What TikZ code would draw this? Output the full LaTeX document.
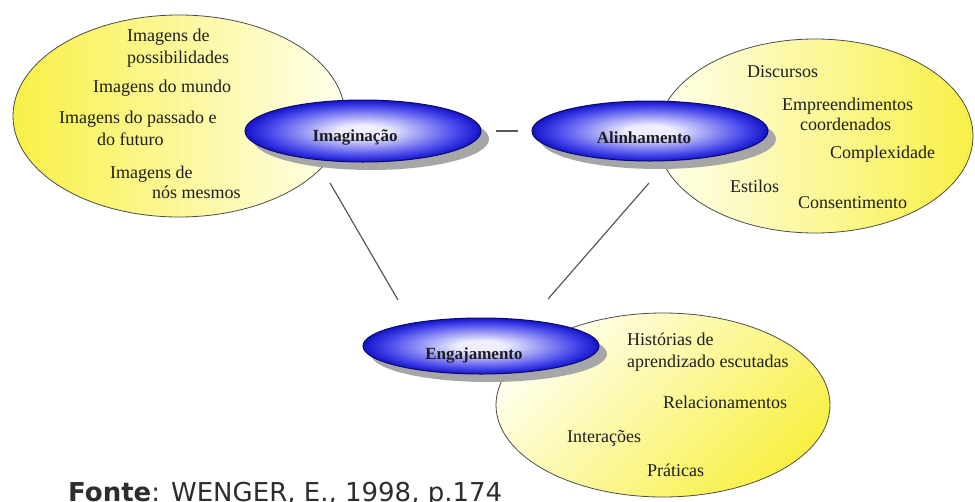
\documentclass[tikz,border=0pt]{standalone}
\usepackage{fontspec}
\setmainfont{Liberation Serif}
\newfontfamily\fontesans{DejaVu Sans}
\usetikzlibrary{shapes.geometric,shadows}
\definecolor{yelA}{RGB}{248,240,70}
\definecolor{creamA}{RGB}{255,255,238}
\definecolor{bwhite}{RGB}{238,238,255}
\definecolor{bmid}{RGB}{70,70,235}
\definecolor{bedge}{RGB}{20,20,200}
\definecolor{bline}{RGB}{10,10,110}
\definecolor{txtc}{RGB}{30,30,30}
\definecolor{fontec}{RGB}{45,45,45}
\pgfdeclareradialshading{blueglow}{\pgfpoint{0bp}{0bp}}{color(0bp)=(bwhite); color(5bp)=(bwhite); color(20bp)=(bmid); color(25bp)=(bedge); color(50bp)=(bedge)}
\tikzset{
  yelell/.style={ellipse, draw=black!70, line width=0.8pt, inner sep=0pt},
  blueell/.style={ellipse, draw=bline, line width=1pt, inner sep=0pt, shading=blueglow,
    drop shadow={shadow xshift=8pt, shadow yshift=-8pt, fill=black!35, opacity=1}},
  itemtxt/.style={font=\fontsize{18}{20}\selectfont, text=txtc, inner sep=0pt, anchor=base west},
  bluetxt/.style={font=\bfseries\fontsize{17}{20}\selectfont, text=txtc, inner sep=0pt},
  conn/.style={draw=black!65, line width=1.2pt}
}
\begin{document}
\begin{tikzpicture}[x=1pt,y=-1pt]
\path[use as bounding box, fill=white] (0,0) rectangle (975,501);
% yellow ellipses
\node[yelell, minimum width=332pt, minimum height=202pt, left color=yelA, right color=creamA] (ly) at (179,116) {};
\node[yelell, minimum width=316pt, minimum height=194pt, left color=creamA, right color=yelA] (ry) at (815,136) {};
\node[yelell, minimum width=334pt, minimum height=184pt, top color=creamA, bottom color=yelA, shading angle=45] (by) at (663,405) {};
% blue ellipses
\node[blueell, minimum width=236pt, minimum height=62pt] (imag) at (363,131) {};
\node[blueell, minimum width=236pt, minimum height=60pt] (alin) at (650,131) {};
\node[blueell, minimum width=236pt, minimum height=56pt] (engaj) at (481,346) {};
\node[bluetxt] (imagt) at (355,137) {Imaginação};
\node[bluetxt] (alint) at (644,138) {Alinhamento};
\node[bluetxt] (engajt) at (474,355) {Engajamento};
% connectors
\draw[conn, line width=1.6pt, shorten <=14pt, shorten >=14pt] (imag.east) -- (alin.west);
\coordinate (c1a) at (330,183);
\coordinate (c1b) at (398,300);
\coordinate (c2a) at (649,183);
\coordinate (c2b) at (548,299);
\draw[conn] (c1a) -- (c1b);
\draw[conn] (c2a) -- (c2b);
% left texts
\node[itemtxt] (l1) at (127,41) {Imagens de};
\node[itemtxt] (l2) at (127,63) {possibilidades};
\node[itemtxt] (l3) at (93,92) {Imagens do mundo};
\node[itemtxt] (l4) at (59,123) {Imagens do passado e};
\node[itemtxt] (l5) at (97,145) {do futuro};
\node[itemtxt] (l6) at (110,178) {Imagens de};
\node[itemtxt] (l7) at (152,198) {nós mesmos};
% right texts
\node[itemtxt] (r1) at (747,77) {Discursos};
\node[itemtxt] (r2) at (782,110) {Empreendimentos};
\node[itemtxt] (r3) at (800,130) {coordenados};
\node[itemtxt] (r4) at (830,158) {Complexidade};
\node[itemtxt] (r5) at (730,192) {Estilos};
\node[itemtxt] (r6) at (798,208) {Consentimento};
% bottom texts
\node[itemtxt] (b1) at (627,345) {Histórias de};
\node[itemtxt] (b2) at (627,367) {aprendizado escutadas};
\node[itemtxt] (b3) at (663,408) {Relacionamentos};
\node[itemtxt] (b4) at (567,442) {Interações};
\node[itemtxt] (b5) at (647,476) {Práticas};
% source
\node[font=\fontesans\fontsize{26}{28}\selectfont, text=fontec, inner sep=0pt, anchor=base west] (fonte) at (68,501) {\textbf{Fonte}: WENGER, E., 1998, p.174};
\end{tikzpicture}
\end{document}
